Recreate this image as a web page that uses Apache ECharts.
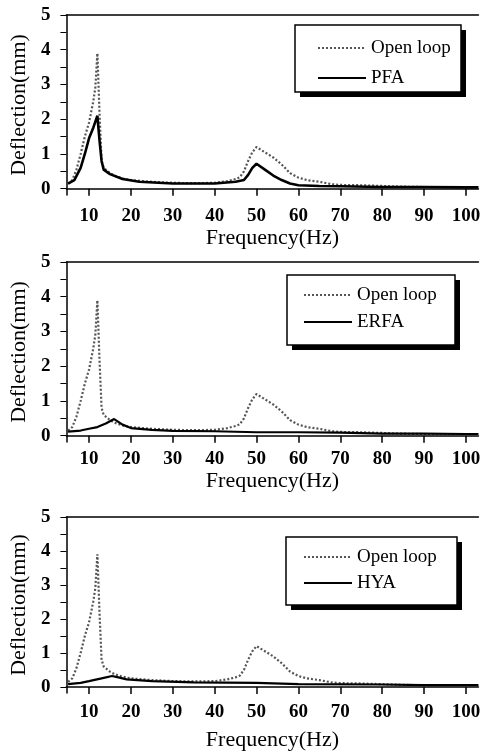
<!DOCTYPE html>
<html>
<head>
<meta charset="utf-8">
<script src="https://cdn.jsdelivr.net/npm/echarts@6/dist/echarts.min.js"></script>
<style>
  html, body { margin: 0; padding: 0; background: #fff; }
  #main { width: 483px; height: 752px; }
</style>
</head>
<body>
<div id="main"></div>
<script>
// open loop response (same in all three panels)
const openFreq = [5, 6, 7, 8, 9, 10, 11, 11.5, 12, 12.5, 13, 13.5, 14, 15, 16, 18, 20, 25, 30, 35, 40, 43, 45, 46, 47, 48, 49, 50, 52, 54, 56, 58, 60, 62, 65, 68, 70, 75, 80, 85, 90, 95, 100, 103];
const openLoop = [0.15, 0.25, 0.55, 1.0, 1.5, 1.9, 2.5, 2.9, 3.9, 2.2, 0.8, 0.6, 0.55, 0.45, 0.38, 0.3, 0.25, 0.2, 0.17, 0.16, 0.17, 0.22, 0.28, 0.33, 0.5, 0.8, 1.05, 1.2, 1.05, 0.9, 0.7, 0.45, 0.32, 0.25, 0.2, 0.13, 0.11, 0.1, 0.08, 0.06, 0.05, 0.05, 0.05, 0.05];

const pfaFreq = [5, 6.5, 8, 9, 10, 11, 12, 12.5, 13, 13.5, 15, 18, 22, 30, 40, 45, 47, 48, 49, 50, 52, 54, 56, 58, 60, 65, 70, 80, 90, 100, 103];
const pfa = [0.15, 0.25, 0.6, 1.0, 1.45, 1.75, 2.1, 1.4, 0.8, 0.55, 0.42, 0.28, 0.2, 0.15, 0.15, 0.2, 0.25, 0.4, 0.6, 0.72, 0.55, 0.38, 0.25, 0.15, 0.1, 0.08, 0.07, 0.05, 0.05, 0.04, 0.04];

const erfaFreq = [5, 8, 10, 12, 14, 16, 18, 20, 25, 30, 40, 50, 60, 70, 80, 90, 100, 103];
const erfa = [0.12, 0.15, 0.2, 0.25, 0.35, 0.48, 0.32, 0.22, 0.17, 0.14, 0.13, 0.1, 0.1, 0.09, 0.06, 0.06, 0.05, 0.05];

const hyaFreq = [5, 8, 10, 13, 15.5, 17, 19, 25, 35, 50, 60, 80, 90, 100, 103];
const hya = [0.08, 0.12, 0.17, 0.25, 0.32, 0.28, 0.22, 0.17, 0.13, 0.12, 0.08, 0.07, 0.05, 0.05, 0.05];

const xTicks = [10, 20, 30, 40, 50, 60, 70, 80, 90, 100];
const yTicks = [0, 1, 2, 3, 4, 5];
const yMinorTicks = [0, 0.5, 1, 1.5, 2, 2.5, 3, 3.5, 4, 4.5, 5];

const controlNames = ["PFA", "ERFA", "HYA"];
const controlData = [[pfaFreq, pfa], [erfaFreq, erfa], [hyaFreq, hya]];

// layout per panel
const panelTops = [15, 262, 517];
const labelMargins = [12, 8, 10];
const nameGaps = [32, 27, 36];
const legendPos = [[317, 38, 10], [303, 285, 7], [303, 547, 6]]; // left, top, itemGap
const legendBoxes = [[295, 25, 166, 67], [287, 275, 168, 70], [286, 537, 171, 68]];

const font = "'Liberation Serif', 'Times New Roman', serif";

function zip(xs, ys) {
  return xs.map((x, i) => [x, ys[i]]);
}

const grid = [], xAxis = [], yAxis = [], series = [], legend = [], graphic = [];

panelTops.forEach((top, i) => {
  grid.push({ left: 62, right: 0, top: top, height: 180 });
  xAxis.push({
    type: "value",
    gridIndex: i,
    min: 4.6,
    max: 103,
    name: "Frequency(Hz)",
    nameLocation: "middle",
    nameGap: nameGaps[i],
    nameTextStyle: { fontFamily: font, fontSize: 22, color: "#000", verticalAlign: "top" },
    axisLine: { lineStyle: { color: "#000", width: 1.5 } },
    axisTick: { customValues: xTicks, length: 7, lineStyle: { color: "#000", width: 1.5 } },
    axisLabel: {
      customValues: xTicks,
      margin: labelMargins[i],
      fontFamily: font,
      fontSize: 19,
      fontWeight: "bold",
      color: "#000",
    },
    splitLine: { show: false },
  });
  // top border of the frame
  xAxis.push({
    type: "value",
    gridIndex: i,
    position: "top",
    min: 4.6,
    max: 103,
    axisLine: { lineStyle: { color: "#000", width: 1.5 } },
    axisTick: { show: false },
    axisLabel: { show: false },
    splitLine: { show: false },
  });
  yAxis.push({
    type: "value",
    gridIndex: i,
    min: -0.18,
    max: 5,
    name: "Deflection(mm)",
    nameLocation: "middle",
    nameRotate: 90,
    nameGap: 35,
    nameTextStyle: { fontFamily: font, fontSize: 22, color: "#000" },
    axisLine: { show: true, lineStyle: { color: "#000", width: 1.5 } },
    axisTick: { customValues: yMinorTicks, length: 6, lineStyle: { color: "#000" } },
    axisLabel: {
      customValues: yTicks,
      margin: 16,
      fontFamily: font,
      fontSize: 19,
      fontWeight: "bold",
      color: "#000",
    },
    splitLine: { show: false },
  });

  series.push({
    name: "Open loop",
    type: "line",
    xAxisIndex: i * 2,
    yAxisIndex: i,
    data: zip(openFreq, openLoop),
    showSymbol: false,
    symbol: "none",
    lineStyle: { color: "#555", width: 2.2, type: [2, 2] },
    z: 2,
  });
  series.push({
    name: controlNames[i],
    type: "line",
    xAxisIndex: i * 2,
    yAxisIndex: i,
    data: zip(controlData[i][0], controlData[i][1]),
    showSymbol: false,
    symbol: "none",
    lineStyle: { color: "#000", width: i === 0 ? 2.6 : 2.2 },
    z: 3,
  });

  // legend box with its hard black shadow
  const b = legendBoxes[i];
  graphic.push({
    type: "rect",
    shape: { x: b[0] + 5, y: b[1] + 5, width: b[2], height: b[3] },
    style: { fill: "#000" },
    z: 10,
  });
  graphic.push({
    type: "rect",
    shape: { x: b[0], y: b[1], width: b[2], height: b[3] },
    style: { fill: "#fff", stroke: "#000", lineWidth: 1.5 },
    z: 11,
  });

  legend.push({
    data: ["Open loop", controlNames[i]],
    orient: "vertical",
    left: legendPos[i][0],
    top: legendPos[i][1],
    itemWidth: 48,
    itemHeight: 14,
    itemGap: legendPos[i][2],
    padding: 0,
    selectedMode: false,
    z: 20,
    itemStyle: { opacity: 0 },
    textStyle: { fontFamily: font, fontSize: 19, lineHeight: 20, color: "#000" },
  });
});

const chart = echarts.init(document.getElementById("main"));
chart.setOption({
  animation: false,
  backgroundColor: "#fff",
  grid: grid,
  xAxis: xAxis,
  yAxis: yAxis,
  legend: legend,
  graphic: graphic,
  series: series,
});
</script>
</body>
</html>
